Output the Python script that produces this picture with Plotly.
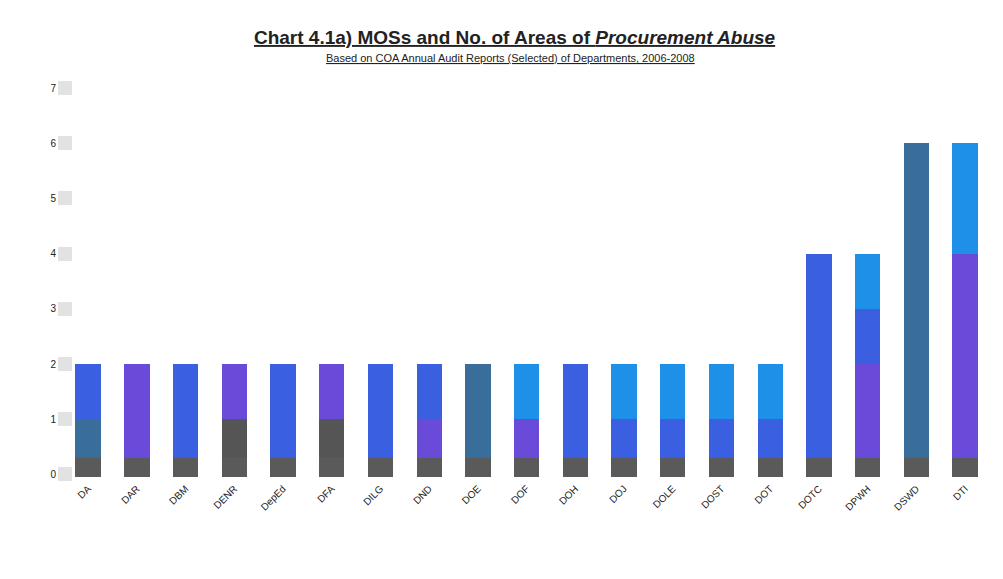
import plotly.graph_objects as go

# ---- data ----
categories = ["DA", "DAR", "DBM", "DENR", "DepEd", "DFA", "DILG", "DND", "DOE",
              "DOF", "DOH", "DOJ", "DOLE", "DOST", "DOT", "DOTC", "DPWH", "DSWD", "DTI"]
areas_count = [2, 2, 2, 2, 2, 2, 2, 2, 2, 2, 2, 2, 2, 2, 2, 4, 4, 6, 6]

RB, PU, SB, SK, DG = "#3a5fe0", "#6a4ad8", "#3a6e9a", "#1e90e8", "#555555"
level_colors = [
    [SB, RB], [PU, PU], [RB, RB], [DG, PU], [RB, RB], [DG, PU], [RB, RB],
    [PU, RB], [SB, SB], [PU, SK], [RB, RB], [RB, SK], [RB, SK], [RB, SK],
    [RB, SK], [RB, RB, RB, RB], [PU, PU, RB, SK], [SB] * 6,
    [PU, PU, PU, PU, SK, SK],
]
y_ticks = [0, 1, 2, 3, 4, 5, 6, 7]

fig = go.Figure()
xs = list(range(len(categories)))
max_level = max(areas_count)
for lvl in range(max_level):
    vals = [1 if c > lvl else 0 for c in areas_count]
    cols = [lc[lvl] if lvl < len(lc) else "rgba(0,0,0,0)" for lc in level_colors]
    fig.add_trace(go.Bar(x=xs, y=vals, marker=dict(color=cols, line=dict(width=0)),
                         width=0.52, showlegend=False, name=f"Area {lvl+1}"))
# dark floor of each column
fig.add_trace(go.Bar(x=xs, y=[0.33] * len(xs), base=-0.04, width=0.52,
                     marker=dict(color="#5a5a5a", line=dict(width=0)), showlegend=False))

fig.update_layout(
    barmode="stack",
    width=1003, height=579,
    margin=dict(l=73, r=13, t=88, b=99),
    paper_bgcolor="white", plot_bgcolor="white",
    font=dict(family="Liberation Sans, Arial", color="#222"),
    title=dict(
        text="<b><u>Chart 4.1a) MOSs and No. of Areas of <i>Procurement Abuse</i></u></b>",
        x=0.513, xanchor="center", y=0.947, yanchor="top", font=dict(size=19)),
    annotations=[dict(
        text="<u>Based on COA Annual Audit Reports (Selected) of Departments, 2006-2008</u>",
        xref="paper", yref="paper", x=0.477, xanchor="center",
        y=1.0 + (88 - 58) / 392, yanchor="middle", showarrow=False,
        font=dict(size=11, color="#222"))],
    xaxis=dict(tickmode="array", tickvals=xs, ticktext=categories, tickangle=-45,
               range=[-0.31, 18.51], showline=False, showgrid=False, zeroline=False,
               tickfont=dict(size=10)),
    yaxis=dict(range=[-0.1, 7], tickvals=y_ticks, showgrid=False, zeroline=False,
               ticks="outside", ticklen=14, tickwidth=14, tickcolor="#e2e2e2",
               tickfont=dict(size=10), showline=False),
)
fig.write_html("out.html")
